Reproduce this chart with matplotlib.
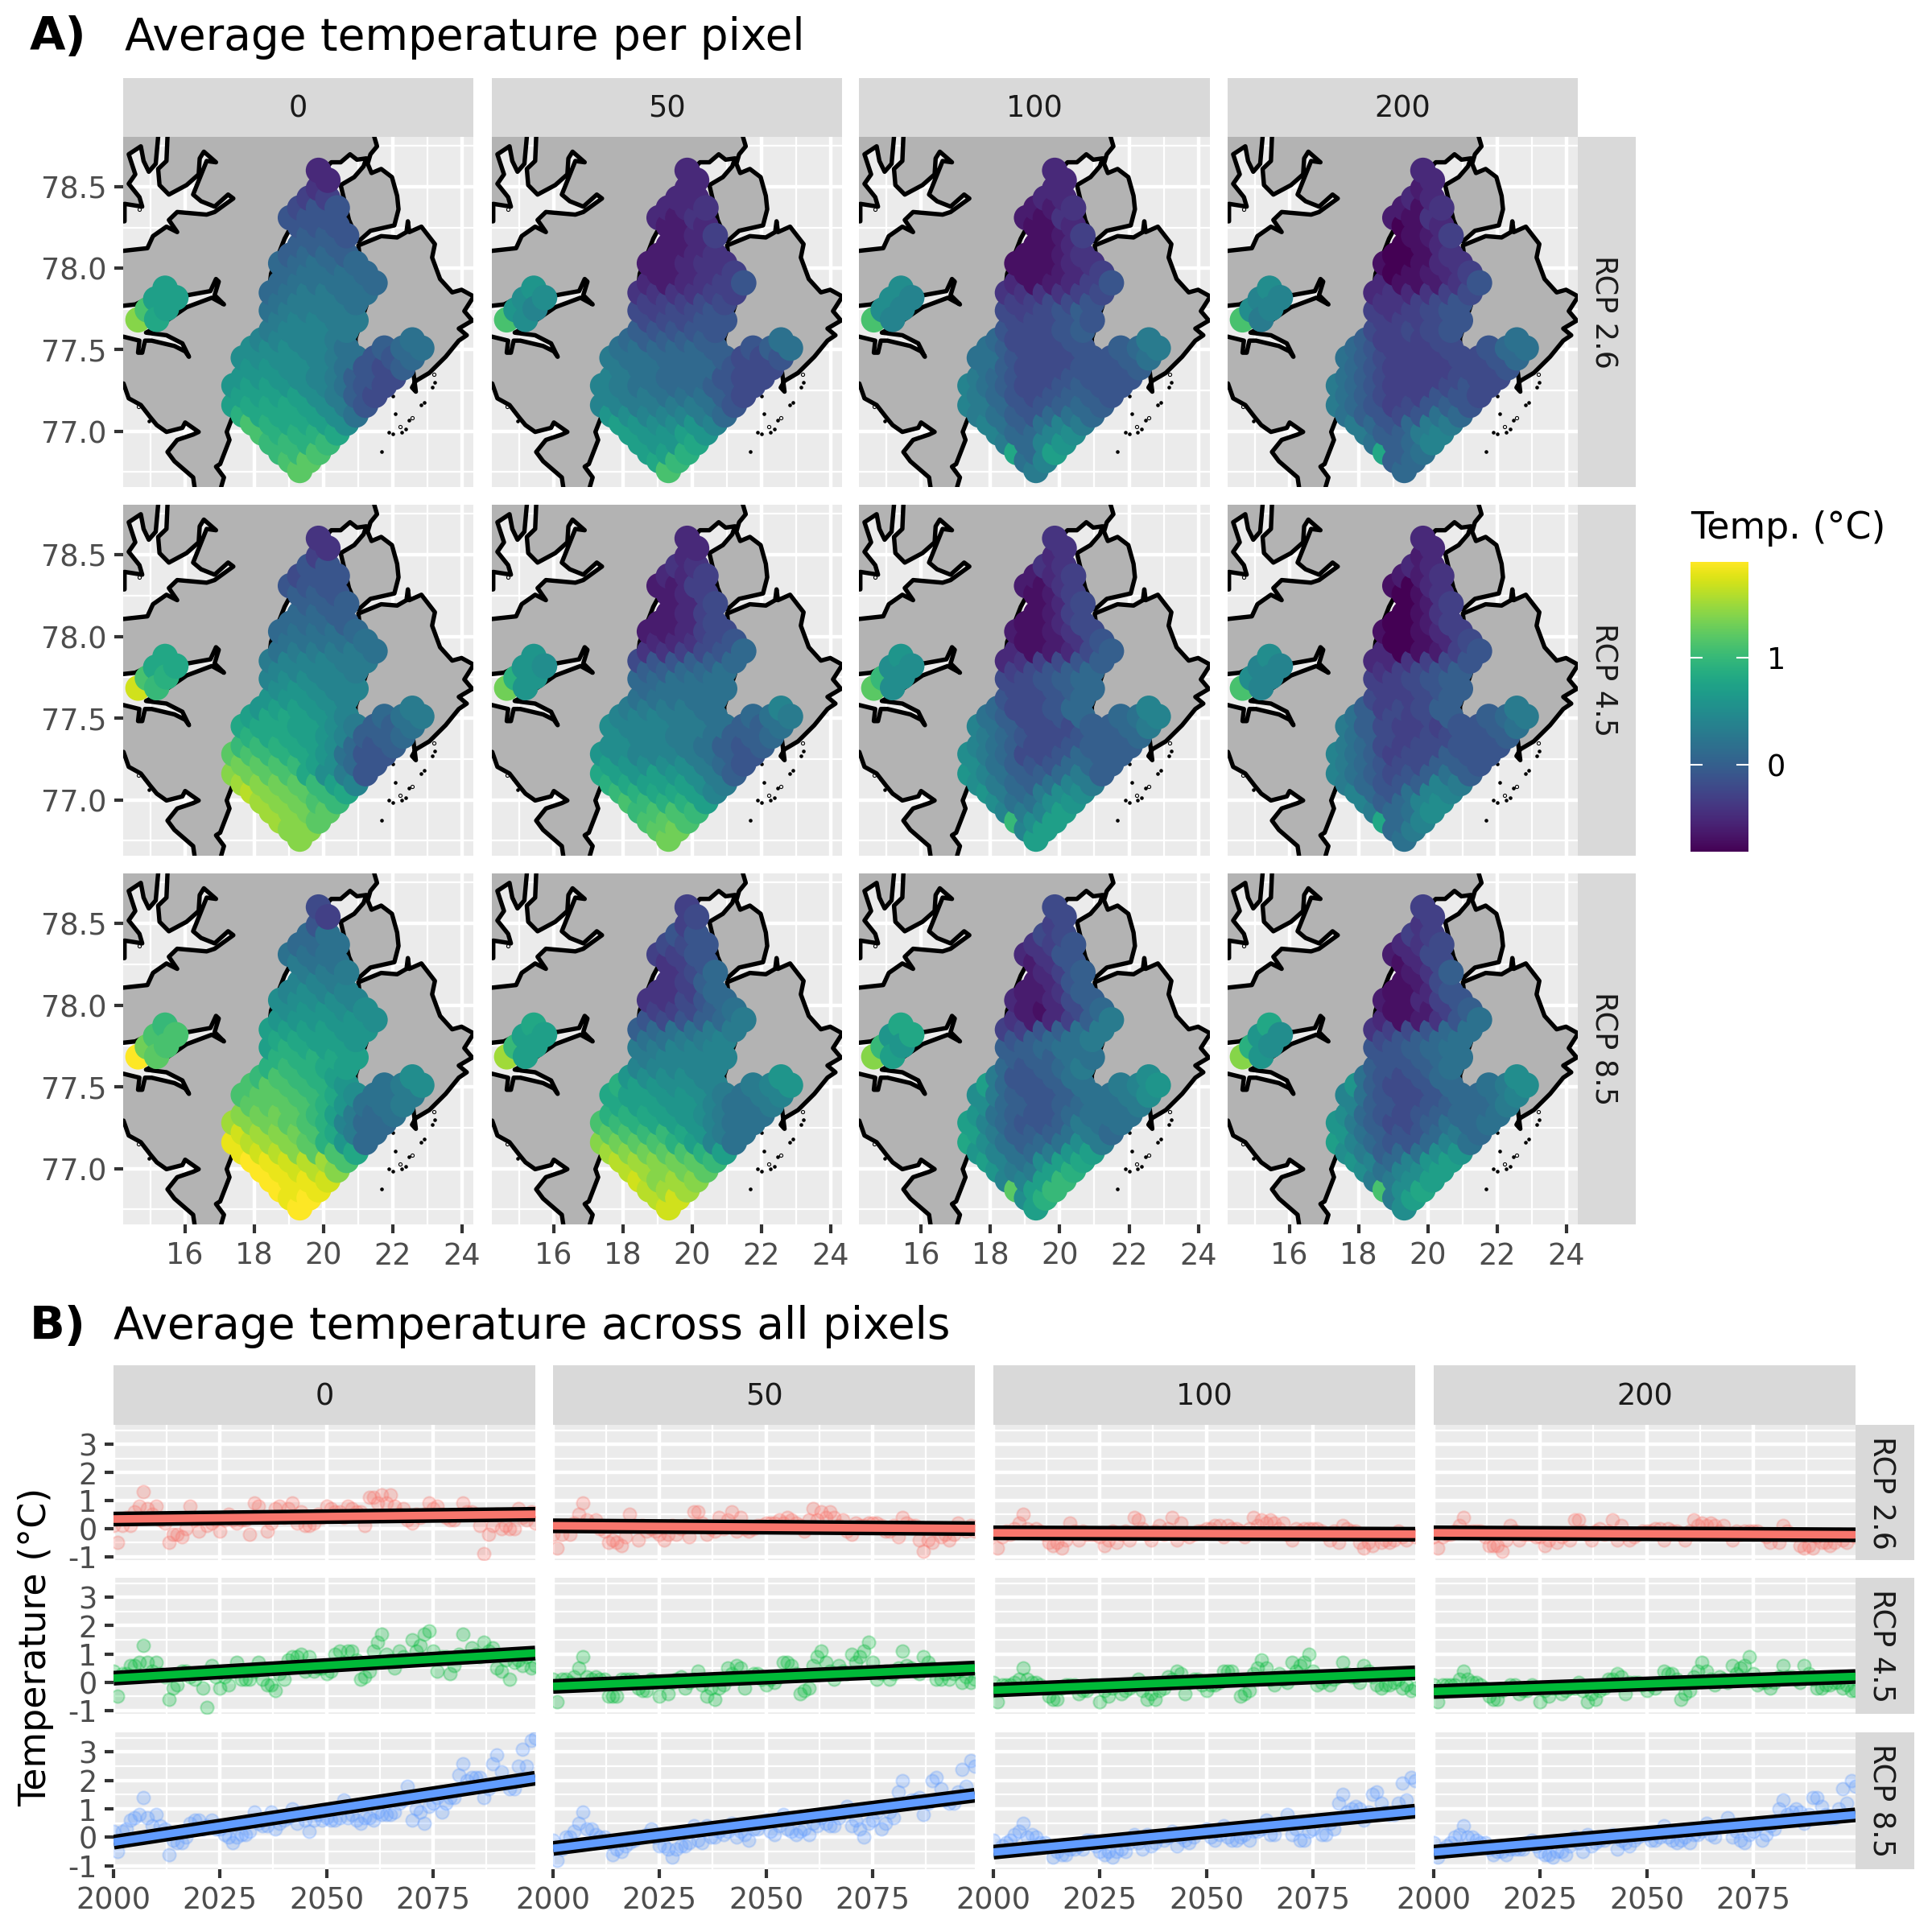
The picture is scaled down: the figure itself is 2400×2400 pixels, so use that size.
#temperature maps and time series per depth and scenario

import matplotlib
matplotlib.use('Agg')
from matplotlib import pyplot as plt
from matplotlib.cm import ScalarMappable
from matplotlib.colors import Normalize
from matplotlib.patches import Polygon, Rectangle

plt.rcParams['font.family'] = 'DejaVu Sans'
plt.rcParams['axes.unicode_minus'] = False

depths = ['0', '50', '100', '200']
scenarios = ['RCP 2.6', 'RCP 4.5', 'RCP 8.5']

lon_ticks = [16, 18, 20, 22, 24]
lat_ticks = [77.0, 77.5, 78.0, 78.5]
lat_labels = ['77.0', '77.5', '78.0', '78.5']
temp_ticks = [0, 1]
year_ticks = [2000, 2025, 2050, 2075]
trend_ticks = [-1, 0, 1, 2, 3]

# coast, lon/lat
land_nw_lon = [13.5,14.26,14.26,14.77,14.69,14.38,14.57,14.38,14.73,14.81,14.96,15.16,15.23,15.23,13.5]
land_nw_lat = [78.288,78.288,78.395,78.378,78.436,78.518,78.576,78.699,78.748,78.658,78.592,78.641,78.806,78.94,78.94]

land_main_lon = [15.50,15.50,15.47,15.23,15.27,15.54,16.05,16.40,16.43,16.55,16.90,16.63,16.24,16.47,16.86,17.25,17.40,16.86,16.63,15.78,
	15.54,15.78,15.47,15.08,14.92,14.23,13.5,13.5,14.23,14.57,15.47,16.09,16.74,16.90,16.98,16.86,17.13,16.78,16.05,15.31,
	14.88,15.47,15.93,16.12,16.01,15.70,15.04,14.85,14.77,14.65,14.69,14.23,13.5,13.5,14.23,14.38,14.73,15.00,15.19,15.47,
	15.93,16.01,16.40,16.24,15.78,15.50,15.70,16.24,16.28,16.28,17.05,17.05,17.13,16.90,17.02,17.29,17.21,17.33,18.26,18.49,
	18.88,19.34,20.04,20.23,20.50,20.77,20.97,21.24,21.16,20.89,20.50,20.74,21.01,21.36,22.05,22.17,22.13,21.98,21.67,21.39,
	21.28,21.36,21.55,21.47,21.47]
land_main_lat = [78.94,78.806,78.658,78.609,78.510,78.452,78.510,78.576,78.674,78.715,78.650,78.658,78.452,78.411,78.378,78.452,78.428,78.345,78.329,78.345,
	78.296,78.222,78.255,78.197,78.123,78.107,78.107,77.770,77.770,77.778,77.868,77.835,77.860,77.934,77.918,77.835,77.778,77.819,77.761,77.654,
	77.605,77.589,77.539,77.457,77.490,77.523,77.556,77.556,77.482,77.482,77.556,77.580,77.580,77.293,77.293,77.202,77.161,77.087,77.038,76.996,
	77.021,77.054,76.996,76.980,76.947,76.873,76.816,76.717,76.659,76.55,76.55,76.659,76.717,76.783,76.799,76.947,76.996,77.062,77.539,77.967,
	78.181,78.362,78.609,78.650,78.650,78.699,78.666,78.674,78.625,78.559,78.510,78.296,78.164,78.230,78.263,78.362,78.444,78.559,78.609,78.584,
	78.641,78.699,78.748,78.806,78.94]

land_east_lon = [21.01,21.67,22.13,22.40,22.44,22.48,22.83,23.22,23.14,23.37,23.72,23.99,24.34,24.07,24.30,23.91,24.14,23.91,23.53,23.06,
	22.67,22.56,22.67,22.59,21.67,20.93,20.93,21.24]
land_east_lat = [78.140,78.197,78.189,78.222,78.288,78.222,78.255,78.148,78.066,77.934,77.852,77.868,77.827,77.737,77.679,77.630,77.589,77.556,77.457,77.358,
	77.309,77.268,77.243,77.375,77.490,77.457,77.572,77.770]

island_lon = [22.01,22.07,22.83,22.92,23.14,23.22,22.48,21.90,22.00,22.25,22.37,21.67,14.96,14.85]
island_lat = [77.218,77.108,77.161,77.178,77.268,77.300,77.070,76.996,76.985,76.996,77.012,76.876,77.062,77.128]
islet_lon = [22.56,22.21,14.69,14.65,23.18]
islet_lat = [77.082,77.026,78.362,77.153,77.350]

# model pixels, south to north
row_lats = [76.76,76.82,76.87,76.93,76.99,77.05,77.10,77.16,77.22,77.28,77.33,77.39,77.45,77.51,77.56,77.62,77.68,
	77.74,77.79,77.85,77.91,77.97,78.03,78.08,78.14,78.20,78.26,78.31,78.37,78.43,78.49,78.54,78.60]
row_lons = [
	[19.32],
	[19.05,19.59],
	[18.77,19.32,19.86],
	[18.50,19.05,19.59,20.13],
	[18.23,18.77,19.32,19.86,20.40],
	[17.96,18.50,19.05,19.59,20.13,20.67],
	[17.69,18.23,18.77,19.32,19.86,20.40,20.94],
	[17.42,17.96,18.50,19.05,19.59,20.13,20.67,21.22],
	[17.69,18.23,18.77,19.32,19.86,20.40,20.94,21.49],
	[17.42,17.96,18.50,19.05,19.59,20.13,20.67,21.22,21.76],
	[17.69,18.23,18.77,19.32,19.86,20.40,20.94,21.49,22.03],
	[17.96,18.50,19.05,19.59,20.13,20.67,21.22,21.76,22.30],
	[17.69,18.23,18.77,19.32,19.86,20.40,20.94,21.49,22.03,22.57],
	[17.96,18.50,19.05,19.59,20.13,20.67,21.76,22.30,22.84],
	[18.23,18.77,19.32,19.86,20.40,22.57],
	[18.50,19.05,19.59,20.13,20.67],
	[18.77,19.32,19.86,20.40,20.94],
	[18.50,19.05,19.59,20.13,20.67],
	[18.77,19.32,19.86,20.40,20.94],
	[18.50,19.05,19.59,20.13,20.67,21.22],
	[18.77,19.32,19.86,20.40,20.94,21.49],
	[19.05,19.59,20.13,20.67,21.22],
	[18.77,19.32,19.86,20.40,20.94],
	[19.05,19.59,20.13,20.67],
	[19.32,19.86,20.40],
	[19.59,20.13,20.67],
	[19.32,19.86,20.40],
	[19.05,19.59,20.13],
	[19.32,19.86,20.40],
	[19.59,20.13],
	[19.86],
	[20.13],
	[19.86]]
fjord_lon = [15.43,15.16,15.74,14.92,15.47,14.65,15.19]
fjord_lat = [77.877,77.811,77.819,77.745,77.753,77.684,77.687]

# pixel temperature per row, one character per pixel in tenths of a degree above -0.8 (base 36)
t26_0 = 'k jk iij iihi jhhhg jhggfd hgggfda fgggfdb7 ffffdb86 effedca76 eeedcb876 eeddca768 ddddcba779 dddcca89a ccccba bcccb bccbb abbbb abbba 9abbaa 9aaaa9 9aaa9 99a99 8998 888 887 777 777 677 55 4 3 3'.split()
t26_50 = 'j gi ffh feeg feefe feddec edcccb9 ccbbbba7 cbbaaa86 cbaa99876 cba999766 baa999766 baa9998667 aa999878a 98888a 87777 66677 65667 55566 444455 323457 22345 22344 2234 223 235 223 324 334 33 3 3 3'.split()
t26_100 = 'b ac g9f b9ce c99cd ca8acb ba879a9 cb977898 b9767887 ca8667877 b97667777 a86667778 aa7666778a a8666789b 96667b 76678 66677 65678 55667 444456 312357 11235 11134 1124 113 125 113 214 224 33 3 3 3'.split()
t26_200 = '9 89 g8a a89c b88bc b979bb a8767a9 b9756787 a8655776 b97555676 a86555666 975555667 a865556679 97555679a 85556a 65667 55567 54567 44567 343456 311247 01235 10134 0014 013 125 013 214 214 33 2 3 3'.split()
t45_0 = 'm mm nmk nmlk nmlji omlkig nmlkifc mlkjgdb7 lkjifd97 kjihgea77 iihgfd978 hggfec889 gggffdb88a fggfec9ab effedb eeedc dedcc cddcc ccccb bcccbb abbbba aaaaa 9aaa9 9998 998 888 887 777 677 77 5 4 4'.split()
t45_50 = 'l kl jkj ijji jihhf ihggfc hgfffdb gfefedb8 fedddb97 edcccba87 ddccba878 dccbba889 dcccbba88a cccbba9ab bbbbac aaaaa 9aaaa 99aaa 8899a 677889 445679 33467 22356 2236 235 236 235 225 335 44 3 3 3'.split()
t45_100 = 'f cf idf cbcf daade eb9bdd db98acb eca889b8 da877998 db9667988 ca8667888 b97667889 ca8666889b a866799ac 96679c 76679 66789 66789 56789 345678 312368 11247 21246 1136 125 136 125 214 235 44 3 4 4'.split()
t45_200 = 'a 9b g9c b9ad c89cd c97acc b9778cb ca8678a8 b9766887 ca8566877 b96566777 a86566778 b86555778a a8656889b 85668b 65568 55678 55678 45678 334567 301257 00136 10135 0025 014 025 014 103 224 33 2 3 3'.split()
t85_0 = 'r qr rqq rqqp rqpom rqponj qpomkjg qonmkhe9 pnmljgb9 nmlkjhc99 mllkifb9a kkkjheaab jkkjigdaab jkjiheabd ijihfd hihgf hhhgf fhgff ggffe ffffee eeeeed deedd ddddc cdcc ccb bbb baa aaa 99a 9a 7 5 6'.split()
t85_50 = 'p op onn pmnm onmlk onmlki nmlkjhf mlkjhfca kjiigeba jihgfecaa hhgfedbaa gffeecaab gffeedbabc hfeddcbce edddce ccccc bcccc bbccc aabbc 89aabb 76789b 5568a 44679 4459 458 469 457 557 667 77 5 6 5'.split()
t85_100 = 'f dh kfi ccfi ebbfh fcadfg eca9bef gda89adb fb888ab9 fc9778baa ea8779aaa d98789aab db8778aabd f9778abce b778ad 9789b 888aa 889aa 789ab 5578ab 42358b 21369 32368 2248 237 358 247 347 457 66 5 6 6'.split()
t85_200 = 'd bf jdg bbdf dacdf ec9cef db89ade fc9779ca ea8779b9 eb8668a9a d9767899a c8767899b ca766799ac e86679abd a7679d 8778a 7789a 7789a 6789a 45679a 31247a 11258 21357 1137 126 248 136 236 346 55 4 5 5'.split()
map_rows = [[t26_0,t26_50,t26_100,t26_200],[t45_0,t45_50,t45_100,t45_200],[t85_0,t85_50,t85_100,t85_200]]

# same coding for the small fjord patch
fjord26 = ['fffjfmg','eddecjd','ddcdcjc','dccdcjb']
fjord45 = ['gggjhpi','eedhele','eddidkd','dccdcjc']
fjord85 = ['ijjljrk','gffifnf','gegiemf','gedhdme']
fjord_rows = [fjord26,fjord45,fjord85]

temp_min = -0.81
temp_max = 1.89

# yearly series 2000-2099
years = list(range(2000, 2100))

red_0 = [0.1,-0.5,0.1,0.4,0.1,0.6,0.8,1.3,0.7,0.5,
	0.8,0.3,0.2,-0.5,-0.2,-0.2,-0.3,0.0,0.8,0.3,
	-0.1,0.4,0.1,0.2,0.3,-0.1,0.3,0.5,0.3,0.2,
	0.3,0.3,-0.2,0.9,0.8,0.4,-0.1,0.2,0.7,0.8,
	0.4,0.7,0.9,0.2,0.6,0.1,0.1,0.2,0.5,0.4,
	0.8,0.7,0.6,0.6,0.4,0.8,0.7,0.6,0.6,0.1,
	1.1,1.1,0.9,1.2,0.9,1.2,0.8,0.5,0.7,0.3,
	0.2,0.5,0.4,0.5,0.9,0.7,0.8,0.5,0.4,0.3,
	0.3,0.5,0.9,0.6,0.6,0.5,0.1,-0.9,-0.2,0.1,
	0.5,0.0,0.1,0.0,0.0,0.7,0.4,0.3,0.6,0.2]
red_50 = [-0.2,-0.7,-0.2,0.1,-0.2,0.2,0.5,0.9,0.3,0.1,
	0.3,0.0,-0.1,-0.5,-0.4,-0.5,-0.6,-0.3,0.5,0.1,
	-0.4,0.1,-0.1,0.0,-0.1,-0.2,-0.4,-0.2,0.1,-0.2,
	0.0,0.1,-0.3,0.6,0.6,0.2,-0.2,0.0,-0.1,0.4,
	0.0,0.3,0.6,-0.1,0.4,0.0,-0.1,0.0,0.1,0.1,
	0.2,0.2,0.2,0.3,0.2,0.4,0.3,0.2,0.1,-0.1,
	0.3,0.7,0.3,0.6,0.4,0.6,0.4,0.1,0.3,-0.1,
	-0.2,0.2,0.1,0.1,0.2,0.2,0.2,0.1,-0.1,-0.1,
	0.1,-0.3,0.4,0.2,0.1,0.1,-0.4,-0.8,-0.4,-0.5,
	0.0,-0.3,-0.2,-0.4,-0.2,0.2,0.0,-0.1,0.1,-0.1]
red_100 = [-0.2,-0.7,-0.3,-0.1,-0.2,0.0,0.2,0.5,0.0,-0.1,
	0.0,-0.1,-0.2,-0.5,-0.6,-0.5,-0.7,-0.4,0.2,-0.1,
	-0.4,-0.1,-0.2,-0.2,-0.2,-0.3,-0.6,-0.4,-0.1,-0.5,
	-0.2,-0.1,-0.4,0.4,0.3,0.0,-0.2,-0.4,-0.1,0.1,
	-0.2,0.0,0.4,-0.4,0.2,-0.2,-0.3,-0.2,-0.1,-0.1,
	0.0,0.0,0.1,0.1,-0.3,0.1,0.0,0.0,-0.1,-0.3,
	0.0,0.4,0.1,0.3,0.2,0.3,0.2,0.0,0.2,-0.2,
	-0.4,0.0,-0.1,0.0,0.0,0.0,0.0,-0.1,-0.2,-0.4,
	-0.1,-0.5,0.1,0.0,-0.1,-0.1,-0.5,-0.7,-0.5,-0.6,
	-0.2,-0.5,-0.4,-0.5,-0.4,-0.1,-0.3,-0.4,-0.2,-0.3]
red_200 = [-0.3,-0.7,-0.3,-0.2,-0.2,-0.1,0.1,0.4,-0.1,-0.1,
	-0.1,-0.1,-0.3,-0.6,-0.6,-0.6,-0.8,-0.4,0.1,-0.1,
	-0.4,-0.2,-0.2,-0.2,-0.3,-0.3,-0.6,-0.4,-0.2,-0.5,
	-0.3,-0.2,-0.4,0.3,0.3,-0.1,-0.2,-0.4,-0.1,0.0,
	-0.2,-0.1,0.3,-0.4,0.1,-0.2,-0.4,-0.3,-0.2,-0.1,
	-0.1,-0.1,0.0,0.0,-0.4,0.0,-0.1,-0.1,-0.2,-0.4,
	-0.1,0.3,0.1,0.2,0.1,0.2,0.1,-0.1,0.1,-0.2,
	-0.4,-0.1,-0.2,-0.1,-0.1,-0.1,-0.1,-0.2,-0.3,-0.5,
	-0.2,-0.5,0.1,-0.1,-0.2,-0.2,-0.6,-0.7,-0.6,-0.7,
	-0.3,-0.5,-0.5,-0.6,-0.5,-0.2,-0.4,-0.5,-0.2,-0.3]

green_0 = [0.4,-0.5,0.3,0.3,0.6,0.6,0.7,1.3,0.7,0.4,
	0.7,0.3,0.2,-0.6,-0.2,-0.1,0.4,0.4,0.2,0.1,
	0.3,-0.2,-0.9,0.6,0.2,-0.2,0.2,-0.1,0.4,0.7,
	0.1,0.1,0.1,0.4,0.7,0.1,-0.1,-0.1,-0.3,0.3,
	0.1,0.8,0.9,0.9,1.0,0.4,0.9,0.4,0.5,0.5,
	0.3,0.4,1.0,1.1,0.7,1.1,1.1,0.8,0.1,0.2,
	0.4,1.1,1.4,1.7,1.0,0.8,0.5,1.1,0.9,0.8,
	1.5,1.1,1.3,1.7,1.8,1.1,0.4,0.9,0.9,0.3,
	0.6,1.0,1.7,0.9,1.2,1.0,0.9,1.4,1.1,1.2,
	0.5,0.4,0.8,0.1,0.7,0.8,0.6,0.9,0.5,0.6]
green_50 = [0.1,-0.7,0.1,0.1,0.0,0.2,0.5,0.9,0.2,0.1,
	0.2,0.1,0.1,-0.5,-0.5,-0.5,0.1,0.1,0.1,0.1,
	-0.2,-0.3,-0.3,0.1,0.0,-0.5,0.0,-0.4,0.0,0.1,
	0.2,-0.2,0.0,0.1,0.4,-0.1,-0.5,-0.2,-0.6,-0.2,
	-0.1,0.5,0.3,0.6,0.5,-0.2,0.2,0.3,0.3,0.1,
	-0.1,0.1,0.0,0.2,0.7,0.7,0.6,0.3,-0.4,-0.3,
	-0.2,0.6,0.9,1.1,0.7,0.4,0.1,0.6,0.4,0.3,
	1.0,0.7,0.9,1.1,1.4,0.7,0.1,0.3,0.4,0.1,
	0.3,0.5,1.1,0.6,0.5,0.4,0.3,0.9,0.7,0.5,
	0.1,0.1,0.3,0.1,0.3,0.4,0.0,0.2,0.0,0.1]
green_100 = [0.0,-0.7,-0.1,-0.1,-0.1,0.0,0.1,0.5,0.1,0.0,
	0.0,-0.1,-0.2,-0.5,-0.6,-0.6,-0.2,-0.1,-0.1,-0.1,
	-0.4,-0.3,-0.3,-0.1,-0.1,-0.7,-0.3,-0.5,-0.2,-0.1,
	-0.4,-0.3,-0.2,-0.1,0.1,-0.3,-0.6,-0.4,-0.6,-0.3,
	-0.2,0.2,0.1,0.4,0.3,-0.4,0.0,0.1,0.1,-0.1,
	-0.3,-0.1,-0.1,0.0,0.4,0.4,0.4,0.1,-0.5,-0.4,
	-0.3,0.3,0.5,0.8,0.5,0.1,-0.1,0.3,0.1,0.0,
	0.7,0.4,0.6,0.7,1.0,0.4,-0.1,0.0,0.1,-0.1,
	0.1,0.2,0.7,0.3,0.2,0.2,0.0,0.6,0.4,0.2,
	-0.1,-0.2,-0.1,-0.1,0.0,0.1,-0.2,-0.1,-0.3,-0.2]
green_200 = [-0.1,-0.7,-0.1,-0.1,-0.1,-0.1,0.1,0.4,0.1,0.0,
	0.0,-0.1,-0.2,-0.5,-0.6,-0.6,-0.3,-0.2,-0.1,-0.1,
	-0.4,-0.3,-0.3,-0.1,-0.2,-0.7,-0.3,-0.5,-0.2,-0.2,
	-0.4,-0.3,-0.2,-0.2,0.0,-0.3,-0.7,-0.4,-0.6,-0.3,
	-0.2,0.1,0.1,0.3,0.2,-0.4,0.0,0.0,0.0,-0.1,
	-0.3,-0.1,-0.2,0.0,0.4,0.3,0.3,0.1,-0.6,-0.4,
	-0.3,0.2,0.4,0.7,0.4,0.1,-0.1,0.2,0.1,0.0,
	0.6,0.3,0.5,0.6,0.9,0.3,-0.1,0.0,0.0,-0.2,
	0.0,0.2,0.6,0.2,0.2,0.1,0.0,0.6,0.3,0.1,
	-0.2,-0.2,-0.1,-0.1,0.0,0.0,-0.2,-0.1,-0.3,-0.3]

blue_0 = [0.2,-0.5,0.2,0.3,0.6,0.7,0.8,1.4,0.7,0.4,
	0.8,0.4,0.3,-0.6,-0.1,-0.2,-0.2,0.0,0.5,0.6,
	0.6,0.3,0.4,0.6,0.3,0.3,0.1,0.0,-0.2,0.0,
	0.1,0.1,0.2,0.9,0.5,0.4,0.4,0.9,0.3,0.5,
	0.6,0.7,1.0,0.5,0.9,0.6,0.2,0.6,0.8,0.6,
	0.7,0.6,0.6,0.7,1.3,0.7,0.8,0.6,0.5,0.7,
	0.7,0.6,0.9,0.8,0.8,0.8,0.9,1.2,1.3,1.8,
	0.6,1.0,0.9,0.5,1.1,1.2,1.4,0.9,1.2,1.4,
	1.4,2.2,2.6,2.0,2.1,2.1,2.1,1.4,1.7,2.6,
	2.9,2.3,1.9,1.7,1.7,2.5,3.1,2.5,3.4,3.5]
blue_50 = [-0.1,-0.8,-0.4,0.0,0.0,0.2,0.5,0.9,0.3,0.3,
	0.1,0.0,0.0,-0.2,-0.6,-0.4,-0.5,-0.3,-0.2,-0.1,
	0.0,0.0,0.1,0.3,0.0,-0.3,-0.3,-0.4,-0.7,-0.4,
	-0.3,-0.3,-0.2,0.4,-0.1,-0.2,0.4,0.0,0.0,0.2,
	0.1,0.2,0.5,0.0,0.2,0.1,-0.1,0.3,0.3,0.5,
	0.6,0.2,0.1,0.4,0.8,0.3,0.2,0.1,0.2,0.3,
	0.1,0.5,0.4,0.7,0.5,0.4,0.4,0.7,0.9,1.1,
	0.4,0.6,0.3,0.0,0.5,0.6,0.9,0.3,0.5,0.9,
	0.7,1.6,2.0,1.2,1.3,1.3,1.4,0.8,1.2,2.0,
	2.1,1.7,1.3,1.2,1.2,1.6,2.4,1.8,2.7,2.5]
blue_100 = [-0.1,-0.5,-0.3,-0.2,-0.1,0.1,0.2,0.5,0.0,0.1,
	0.0,-0.2,-0.2,-0.3,-0.7,-0.5,-0.6,-0.6,-0.4,-0.4,
	-0.3,-0.4,-0.1,-0.1,-0.3,-0.5,-0.6,-0.5,-0.7,-0.5,
	-0.4,-0.5,-0.2,0.1,-0.2,-0.4,0.1,-0.3,-0.2,0.0,
	-0.1,0.0,0.2,-0.3,0.0,-0.1,-0.2,0.0,0.2,0.2,
	0.3,0.0,-0.1,0.1,0.4,0.0,-0.1,-0.1,0.0,0.1,
	-0.1,0.2,0.2,0.3,0.6,0.1,0.1,0.5,0.5,0.8,
	0.1,0.3,-0.1,-0.1,0.2,0.3,0.6,0.1,0.1,0.5,
	0.3,1.2,1.5,0.9,1.0,1.1,1.0,0.6,0.9,1.5,
	1.6,1.2,0.9,0.8,0.8,1.2,1.9,1.3,2.1,2.0]
blue_200 = [-0.2,-0.7,-0.4,-0.3,-0.2,0.0,0.1,0.4,0.0,0.0,
	-0.1,-0.2,-0.2,-0.4,-0.6,-0.5,-0.5,-0.6,-0.4,-0.4,
	-0.4,-0.4,-0.2,-0.1,-0.3,-0.5,-0.6,-0.6,-0.7,-0.5,
	-0.5,-0.6,-0.3,0.0,-0.2,-0.5,0.1,-0.3,-0.2,-0.1,
	-0.1,0.0,0.1,-0.4,-0.1,-0.2,-0.3,-0.1,0.0,0.1,
	0.1,-0.1,-0.1,0.0,0.4,0.0,-0.1,-0.2,-0.1,0.0,
	-0.2,0.1,0.1,0.2,0.5,0.1,0.0,0.4,0.4,0.7,
	0.0,0.2,-0.1,-0.2,0.1,0.2,0.4,-0.1,0.1,0.4,
	0.3,1.0,1.3,0.8,0.9,1.0,0.9,0.5,0.8,1.4,
	1.4,1.1,0.8,0.7,0.7,1.0,1.7,1.2,2.0,1.8]
series_rows = [[red_0,red_50,red_100,red_200],[green_0,green_50,green_100,green_200],[blue_0,blue_50,blue_100,blue_200]]

# fitted line at 2000 and 2099
fit_start = [[0.34,0.10,-0.15,-0.15],[0.14,-0.15,-0.28,-0.33],[-0.17,-0.39,-0.52,-0.52]]
fit_end = [[0.51,0.00,-0.20,-0.22],[1.03,0.50,0.33,0.20],[2.08,1.48,0.92,0.79]]
fit_years = [2000, 2099]
scen_colors = ['#F8766D', '#00BA38', '#619CFF']

def axes_px(x0, y0, x1, y1):
	return fig.add_axes([x0/2400, 1-y1/2400, (x1-x0)/2400, (y1-y0)/2400])

def strip(x0, y0, x1, y1, label, rotation=0):
	fig.add_artist(Rectangle((x0/2400, 1-y1/2400), (x1-x0)/2400, (y1-y0)/2400, transform=fig.transFigure, facecolor='#D9D9D9', edgecolor='none'))
	if rotation:
		fig.text(((x0+x1)/2-4)/2400, 1-(y0+y1)/4800, label, ha='center', va='center', rotation=rotation, fontsize=8.8, color='#1A1A1A')
	else:
		fig.text((x0+x1)/4800, 1-((y0+y1)/2+2)/2400, label, ha='center', va='center', fontsize=8.8, color='#1A1A1A')

def style_panel(ax):
	ax.set_facecolor('#EBEBEB')
	for s in ax.spines.values():
		s.set_visible(False)
	ax.set_axisbelow(True)
	ax.grid(which='major', color='white', linewidth=1.07)
	ax.grid(which='minor', color='white', linewidth=0.53)
	ax.tick_params(which='minor', length=0)
	ax.tick_params(which='major', length=2.75, width=1.0, color='#333333', labelcolor='#4D4D4D', labelsize=8.8, pad=2.2)

fig = plt.figure(figsize=(8, 8), dpi=300)
cmap = plt.get_cmap('viridis')
norm = Normalize(temp_min, temp_max)

map_x = [(153, 588), (611, 1046), (1067, 1503), (1525, 1960)]
map_y = [(170, 605), (627, 1063), (1085, 1521)]
ts_x = [(141, 665), (687, 1211), (1234, 1758), (1781, 2305)]
ts_y = [(1770, 1938), (1960, 2129), (2152, 2322)]

fig.text(37/2400, 1-47/2400, 'A)', fontsize=13.8, fontweight='bold', va='center')
fig.text(155/2400, 1-47/2400, 'Average temperature per pixel', fontsize=13.2, va='center')
fig.text(37/2400, 1-1648/2400, 'B)', fontsize=13.8, fontweight='bold', va='center')
fig.text(141/2400, 1-1648/2400, 'Average temperature across all pixels', fontsize=13.2, va='center')
fig.text(45/2400, 1-2046/2400, 'Temperature (\u00b0C)', fontsize=11, rotation=90, ha='center', va='center')

# A) maps
for i in range(3):
	for j in range(4):
		ax = axes_px(map_x[j][0], map_y[i][0], map_x[j][1], map_y[i][1])
		style_panel(ax)
		ax.set_xlim(14.22, 24.33)
		ax.set_ylim(76.658, 78.806)
		ax.set_xticks(lon_ticks)
		ax.set_xticks([15, 17, 19, 21, 23], minor=True)
		ax.set_yticks(lat_ticks)
		ax.set_yticks([76.75, 77.25, 77.75, 78.25, 78.75], minor=True)
		if i == 2:
			ax.set_xticklabels([str(v) for v in lon_ticks])
		else:
			ax.tick_params(which='major', bottom=False, labelbottom=False)
		if j == 0:
			ax.set_yticklabels(lat_labels)
		else:
			ax.tick_params(which='major', left=False, labelleft=False)

		for xs, ys in ((land_nw_lon, land_nw_lat), (land_main_lon, land_main_lat), (land_east_lon, land_east_lat)):
			ax.add_patch(Polygon(list(zip(xs, ys)), closed=True, facecolor='#B3B3B3', edgecolor='black', linewidth=1.3, joinstyle='round', zorder=2))
		ax.plot(island_lon, island_lat, 'o', ms=1.1, mew=0, color='black', zorder=2)
		ax.plot(islet_lon, islet_lat, 'o', ms=1.0, mfc='none', mec='black', mew=0.25, zorder=2)

		pts = []
		codes = map_rows[i][j]
		for r in range(len(row_lats)):
			for lon, c in zip(row_lons[r], codes[r]):
				pts.append((lon, row_lats[r], -0.8+0.1*int(c, 36)))
		for lon, lat, c in zip(fjord_lon, fjord_lat, fjord_rows[i][j]):
			pts.append((lon, lat, -0.8+0.1*int(c, 36)))
		# the raster is stored west to east, south to north, later pixels lie on top
		pts.sort()
		ax.scatter([p[0] for p in pts], [p[1] for p in pts], c=[p[2] for p in pts], cmap=cmap, norm=norm, s=58, linewidths=0, zorder=3)

		if i == 0:
			strip(map_x[j][0], 97, map_x[j][1], 170, depths[j])
		if j == 3:
			strip(1960, map_y[i][0], 2032, map_y[i][1], scenarios[i], rotation=-90)

# colour bar
cax = axes_px(2100, 698, 2172, 1058)
cb = fig.colorbar(ScalarMappable(norm=norm, cmap=cmap), cax=cax)
cb.outline.set_visible(False)
cb.set_ticks(temp_ticks)
cb.ax.tick_params(length=0, labelsize=8.8, pad=5.5, labelcolor='black')
for t in temp_ticks:
	cax.plot([0, 0.2], [t, t], color='white', linewidth=0.5, transform=cax.get_yaxis_transform())
	cax.plot([0.8, 1], [t, t], color='white', linewidth=0.5, transform=cax.get_yaxis_transform())
fig.text(2100/2400, 1-657/2400, 'Temp. (\u00b0C)', fontsize=11, va='center')

# B) series
for i in range(3):
	for j in range(4):
		ax = axes_px(ts_x[j][0], ts_y[i][0], ts_x[j][1], ts_y[i][1])
		style_panel(ax)
		ax.set_xlim(2000, 2099)
		ax.set_ylim(-1.12, 3.69)
		ax.set_xticks(year_ticks)
		ax.set_xticks([2012.5, 2037.5, 2062.5, 2087.5], minor=True)
		ax.set_yticks(trend_ticks)
		ax.set_yticks([-0.5, 0.5, 1.5, 2.5, 3.5], minor=True)
		if i == 2:
			ax.set_xticklabels([str(v) for v in year_ticks])
		else:
			ax.tick_params(which='major', bottom=False, labelbottom=False)
		if j == 0:
			ax.set_yticklabels([str(v) for v in trend_ticks])
		else:
			ax.tick_params(which='major', left=False, labelleft=False)

		col = scen_colors[i]
		ax.scatter(years, series_rows[i][j], s=15, color=col, alpha=0.28, linewidths=0.5, zorder=3)
		fit = [fit_start[i][j], fit_end[i][j]]
		ax.plot(fit_years, fit, color='black', linewidth=4.4, solid_capstyle='butt', zorder=4)
		ax.plot(fit_years, fit, color=col, linewidth=2.3, solid_capstyle='butt', zorder=5)

		if i == 0:
			strip(ts_x[j][0], 1696, ts_x[j][1], 1770, depths[j])
		if j == 3:
			strip(2305, ts_y[i][0], 2378, ts_y[i][1], scenarios[i], rotation=-90)

fig.savefig('out.png', dpi=300)
